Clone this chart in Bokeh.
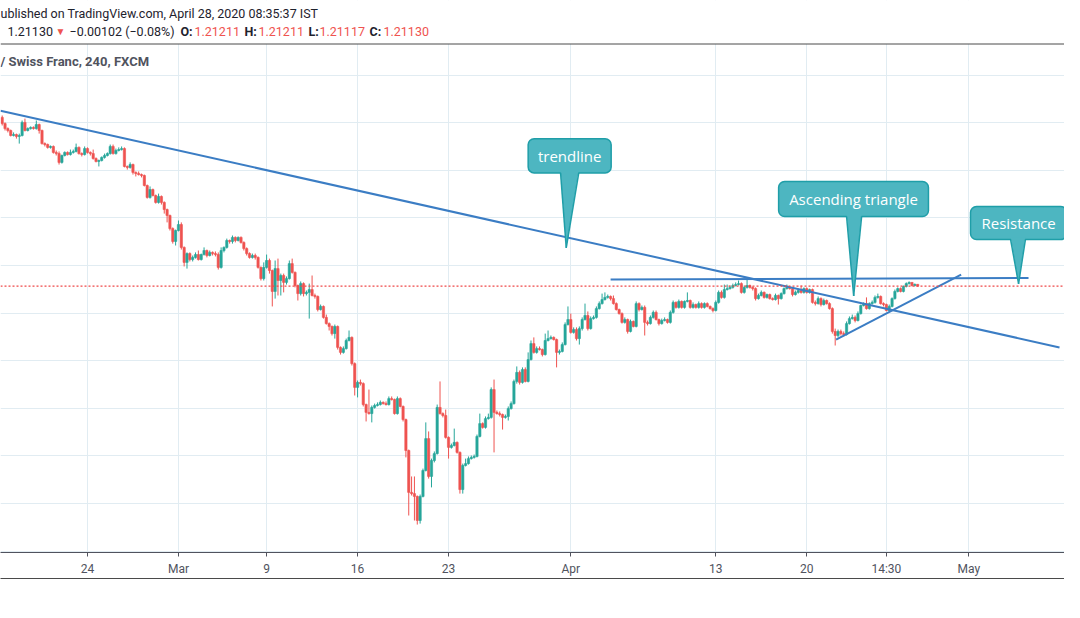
from bokeh.plotting import figure
from bokeh.models import (ColumnDataSource, FixedTicker, Label, Span, BoxAnnotation,
                          LinearAxis, Range1d)
from bokeh.embed import file_html
from bokeh.resources import INLINE

# ---------------- data (GBP/CHF, 240 min bars) ----------------
first_open = 1.2822
close = [
    1.2796, 1.2775, 1.2767, 1.2746, 1.2750, 1.2742, 1.2746, 1.2801, 1.2767, 1.2775,
    1.2780, 1.2775, 1.2792, 1.2767, 1.2712, 1.2708, 1.2696, 1.2700, 1.2675, 1.2670,
    1.2633, 1.2662, 1.2675, 1.2666, 1.2675, 1.2679, 1.2696, 1.2670, 1.2666, 1.2691,
    1.2675, 1.2670, 1.2649, 1.2637, 1.2641, 1.2654, 1.2662, 1.2670, 1.2700, 1.2670,
    1.2683, 1.2687, 1.2691, 1.2616, 1.2612, 1.2624, 1.2591, 1.2586, 1.2582, 1.2578,
    1.2536, 1.2486, 1.2519, 1.2494, 1.2465, 1.2490, 1.2465, 1.2435, 1.2410, 1.2355,
    1.2301, 1.2347, 1.2372, 1.2276, 1.2213, 1.2250, 1.2225, 1.2234, 1.2246, 1.2225,
    1.2246, 1.2263, 1.2242, 1.2255, 1.2250, 1.2246, 1.2192, 1.2263, 1.2276, 1.2305,
    1.2301, 1.2318, 1.2305, 1.2318, 1.2297, 1.2271, 1.2250, 1.2234, 1.2242, 1.2234,
    1.2192, 1.2145, 1.2192, 1.2221, 1.2179, 1.2091, 1.2187, 1.2137, 1.2158, 1.2129,
    1.2145, 1.2208, 1.2171, 1.2116, 1.2082, 1.2124, 1.2082, 1.2087, 1.2099, 1.2074,
    1.2070, 1.2015, 1.2028, 1.1982, 1.1956, 1.1944, 1.1914, 1.1944, 1.1856, 1.1835,
    1.1851, 1.1885, 1.1898, 1.1788, 1.1688, 1.1709, 1.1704, 1.1616, 1.1583, 1.1578,
    1.1604, 1.1612, 1.1616, 1.1625, 1.1620, 1.1616, 1.1641, 1.1637, 1.1578, 1.1641,
    1.1608, 1.1553, 1.1423, 1.1247, 1.1242, 1.1230, 1.1129, 1.1230, 1.1339, 1.1473,
    1.1314, 1.1381, 1.1410, 1.1604, 1.1578, 1.1570, 1.1478, 1.1436, 1.1444, 1.1457,
    1.1415, 1.1259, 1.1360, 1.1368, 1.1389, 1.1394, 1.1398, 1.1482, 1.1536, 1.1520,
    1.1557, 1.1562, 1.1679, 1.1583, 1.1578, 1.1574, 1.1562, 1.1566, 1.1599, 1.1620,
    1.1713, 1.1751, 1.1709, 1.1763, 1.1713, 1.1805, 1.1872, 1.1835, 1.1851, 1.1847,
    1.1826, 1.1885, 1.1893, 1.1898, 1.1889, 1.1835, 1.1839, 1.1868, 1.1952, 1.1973,
    1.1919, 1.1931, 1.1893, 1.1935, 1.1973, 1.1990, 1.1935, 1.1977, 1.1982, 1.2019,
    1.2040, 1.2057, 1.2066, 1.2070, 1.2061, 1.2040, 1.2015, 1.1998, 1.1961, 1.1973,
    1.1923, 1.1965, 1.1944, 1.2040, 1.2015, 1.2024, 1.1961, 1.1956, 1.1982, 1.2003,
    1.1973, 1.1956, 1.1969, 1.1973, 1.1961, 1.2003, 1.2045, 1.2024, 1.2049, 1.2024,
    1.2049, 1.2053, 1.2024, 1.2036, 1.2024, 1.2040, 1.2024, 1.2040, 1.2028, 1.2019,
    1.2011, 1.2045, 1.2087, 1.2066, 1.2099, 1.2103, 1.2108, 1.2116, 1.2120, 1.2124,
    1.2087, 1.2108, 1.2116, 1.2108, 1.2103, 1.2061, 1.2074, 1.2087, 1.2066, 1.2078,
    1.2061, 1.2057, 1.2074, 1.2061, 1.2082, 1.2103, 1.2108, 1.2103, 1.2078, 1.2087,
    1.2095, 1.2087, 1.2103, 1.2087, 1.2099, 1.2045, 1.2040, 1.2061, 1.2036, 1.2053,
    1.2040, 1.2019, 1.1923, 1.1906, 1.1923, 1.1914, 1.1910, 1.1956, 1.1977, 1.1982,
    1.1969, 1.1998, 1.2032, 1.2040, 1.2019, 1.2040, 1.2045, 1.2066, 1.2070, 1.2040,
    1.2036, 1.2011, 1.2028, 1.2061, 1.2091, 1.2103, 1.2091, 1.2112, 1.2124, 1.2129,
    1.2116, 1.2121, 1.2113,
]
high = [
    1.2830, 1.2801, 1.2780, 1.2771, 1.2759, 1.2754, 1.2754, 1.2809, 1.2817, 1.2780,
    1.2784, 1.2784, 1.2809, 1.2796, 1.2771, 1.2717, 1.2712, 1.2704, 1.2704, 1.2683,
    1.2679, 1.2666, 1.2679, 1.2679, 1.2687, 1.2687, 1.2712, 1.2700, 1.2675, 1.2700,
    1.2696, 1.2679, 1.2687, 1.2654, 1.2645, 1.2658, 1.2670, 1.2675, 1.2708, 1.2708,
    1.2691, 1.2696, 1.2700, 1.2696, 1.2620, 1.2633, 1.2628, 1.2595, 1.2595, 1.2586,
    1.2582, 1.2540, 1.2532, 1.2523, 1.2498, 1.2502, 1.2494, 1.2469, 1.2439, 1.2414,
    1.2360, 1.2351, 1.2389, 1.2381, 1.2280, 1.2255, 1.2255, 1.2242, 1.2255, 1.2263,
    1.2250, 1.2276, 1.2267, 1.2263, 1.2259, 1.2259, 1.2255, 1.2276, 1.2280, 1.2313,
    1.2309, 1.2326, 1.2322, 1.2322, 1.2322, 1.2301, 1.2276, 1.2255, 1.2250, 1.2250,
    1.2238, 1.2196, 1.2213, 1.2246, 1.2229, 1.2183, 1.2221, 1.2229, 1.2166, 1.2166,
    1.2154, 1.2221, 1.2229, 1.2175, 1.2120, 1.2133, 1.2129, 1.2095, 1.2124, 1.2158,
    1.2082, 1.2074, 1.2036, 1.2032, 1.1994, 1.1961, 1.1948, 1.1952, 1.1948, 1.1860,
    1.1860, 1.1893, 1.1927, 1.1902, 1.1793, 1.1717, 1.1721, 1.1709, 1.1620, 1.1679,
    1.1612, 1.1620, 1.1625, 1.1633, 1.1629, 1.1629, 1.1650, 1.1650, 1.1641, 1.1650,
    1.1646, 1.1612, 1.1557, 1.1427, 1.1314, 1.1314, 1.1234, 1.1238, 1.1347, 1.1541,
    1.1503, 1.1389, 1.1419, 1.1616, 1.1713, 1.1583, 1.1595, 1.1482, 1.1452, 1.1515,
    1.1461, 1.1419, 1.1368, 1.1389, 1.1398, 1.1402, 1.1406, 1.1490, 1.1578, 1.1541,
    1.1566, 1.1578, 1.1688, 1.1721, 1.1591, 1.1587, 1.1578, 1.1574, 1.1608, 1.1629,
    1.1721, 1.1776, 1.1759, 1.1772, 1.1772, 1.1835, 1.1885, 1.1898, 1.1860, 1.1860,
    1.1851, 1.1914, 1.1927, 1.1906, 1.1902, 1.1893, 1.1847, 1.1877, 1.1961, 1.2028,
    1.1998, 1.1940, 1.1940, 1.1944, 1.1982, 1.2040, 1.2007, 1.1986, 1.1990, 1.2028,
    1.2049, 1.2082, 1.2087, 1.2078, 1.2074, 1.2074, 1.2045, 1.2019, 1.2003, 1.1982,
    1.1977, 1.1973, 1.1969, 1.2049, 1.2045, 1.2032, 1.2032, 1.1969, 1.1990, 1.2011,
    1.2011, 1.1977, 1.1977, 1.1982, 1.1977, 1.2011, 1.2053, 1.2049, 1.2057, 1.2053,
    1.2053, 1.2087, 1.2057, 1.2045, 1.2040, 1.2049, 1.2045, 1.2045, 1.2045, 1.2032,
    1.2024, 1.2053, 1.2095, 1.2095, 1.2120, 1.2120, 1.2116, 1.2124, 1.2129, 1.2137,
    1.2129, 1.2116, 1.2141, 1.2120, 1.2112, 1.2108, 1.2082, 1.2095, 1.2091, 1.2082,
    1.2082, 1.2066, 1.2082, 1.2078, 1.2087, 1.2108, 1.2120, 1.2112, 1.2108, 1.2095,
    1.2103, 1.2116, 1.2108, 1.2108, 1.2103, 1.2103, 1.2053, 1.2070, 1.2066, 1.2061,
    1.2057, 1.2045, 1.2024, 1.1935, 1.1931, 1.1931, 1.1923, 1.1965, 1.1986, 1.1994,
    1.1990, 1.2007, 1.2036, 1.2045, 1.2066, 1.2045, 1.2053, 1.2074, 1.2082, 1.2074,
    1.2045, 1.2040, 1.2036, 1.2066, 1.2099, 1.2108, 1.2108, 1.2116, 1.2129, 1.2133,
    1.2129, 1.2124, 1.2121,
]
low = [
    1.2788, 1.2767, 1.2759, 1.2742, 1.2742, 1.2733, 1.2712, 1.2742, 1.2763, 1.2763,
    1.2771, 1.2771, 1.2771, 1.2754, 1.2708, 1.2700, 1.2691, 1.2691, 1.2670, 1.2662,
    1.2624, 1.2628, 1.2658, 1.2662, 1.2662, 1.2670, 1.2675, 1.2666, 1.2658, 1.2662,
    1.2670, 1.2662, 1.2645, 1.2633, 1.2616, 1.2637, 1.2649, 1.2658, 1.2666, 1.2666,
    1.2666, 1.2679, 1.2683, 1.2612, 1.2603, 1.2607, 1.2582, 1.2574, 1.2578, 1.2570,
    1.2532, 1.2481, 1.2481, 1.2490, 1.2460, 1.2460, 1.2456, 1.2418, 1.2381, 1.2347,
    1.2292, 1.2284, 1.2343, 1.2267, 1.2196, 1.2187, 1.2217, 1.2217, 1.2229, 1.2221,
    1.2221, 1.2242, 1.2234, 1.2238, 1.2242, 1.2238, 1.2183, 1.2187, 1.2255, 1.2271,
    1.2292, 1.2292, 1.2297, 1.2301, 1.2292, 1.2263, 1.2242, 1.2229, 1.2229, 1.2225,
    1.2187, 1.2137, 1.2137, 1.2187, 1.2166, 1.2028, 1.2061, 1.2074, 1.2074, 1.2087,
    1.2120, 1.2141, 1.2166, 1.2108, 1.2053, 1.2074, 1.2070, 1.2074, 1.1977, 1.2070,
    1.2061, 1.2007, 1.2011, 1.1977, 1.1952, 1.1927, 1.1906, 1.1893, 1.1847, 1.1826,
    1.1830, 1.1847, 1.1881, 1.1780, 1.1654, 1.1646, 1.1696, 1.1608, 1.1545, 1.1574,
    1.1541, 1.1599, 1.1608, 1.1612, 1.1616, 1.1612, 1.1612, 1.1633, 1.1574, 1.1574,
    1.1604, 1.1545, 1.1394, 1.1150, 1.1234, 1.1129, 1.1112, 1.1116, 1.1226, 1.1335,
    1.1305, 1.1268, 1.1373, 1.1406, 1.1574, 1.1562, 1.1473, 1.1389, 1.1431, 1.1440,
    1.1410, 1.1242, 1.1242, 1.1356, 1.1364, 1.1385, 1.1389, 1.1394, 1.1478, 1.1515,
    1.1515, 1.1553, 1.1557, 1.1415, 1.1574, 1.1566, 1.1511, 1.1557, 1.1549, 1.1595,
    1.1616, 1.1704, 1.1700, 1.1704, 1.1709, 1.1709, 1.1801, 1.1830, 1.1830, 1.1843,
    1.1818, 1.1822, 1.1881, 1.1889, 1.1885, 1.1772, 1.1826, 1.1835, 1.1864, 1.1948,
    1.1914, 1.1914, 1.1885, 1.1868, 1.1927, 1.1969, 1.1927, 1.1931, 1.1973, 1.1977,
    1.2015, 1.2036, 1.2053, 1.2061, 1.2053, 1.2036, 1.2011, 1.1994, 1.1956, 1.1956,
    1.1914, 1.1919, 1.1940, 1.1940, 1.2007, 1.2011, 1.1906, 1.1948, 1.1952, 1.1977,
    1.1969, 1.1948, 1.1952, 1.1965, 1.1956, 1.1956, 1.1998, 1.2019, 1.2019, 1.2019,
    1.2019, 1.2045, 1.2019, 1.2019, 1.2019, 1.2019, 1.2019, 1.2019, 1.2024, 1.2015,
    1.2003, 1.2007, 1.2040, 1.2061, 1.2061, 1.2095, 1.2099, 1.2103, 1.2112, 1.2116,
    1.2082, 1.2082, 1.2103, 1.2103, 1.2095, 1.2053, 1.2057, 1.2070, 1.2061, 1.2061,
    1.2057, 1.2053, 1.2053, 1.2036, 1.2057, 1.2078, 1.2099, 1.2099, 1.2070, 1.2074,
    1.2082, 1.2082, 1.2082, 1.2082, 1.2082, 1.2040, 1.2032, 1.2036, 1.2028, 1.2032,
    1.2036, 1.2015, 1.1914, 1.1864, 1.1898, 1.1906, 1.1902, 1.1906, 1.1952, 1.1973,
    1.1961, 1.1965, 1.1994, 1.2028, 1.2015, 1.2015, 1.2036, 1.2040, 1.2061, 1.2036,
    1.2028, 1.2007, 1.2007, 1.2024, 1.2057, 1.2087, 1.2087, 1.2087, 1.2108, 1.2120,
    1.2112, 1.2112, 1.21117,
]

# time axis: bar index of each labelled tick, and its label
tick_pos = [30, 62, 93, 125, 157, 200, 251, 283, 311, 340]
tick_lab = ["24", "Mar", "9", "16", "23", "Apr", "13", "20", "14:30", "May"]
price_grid = [1.10, 1.12, 1.14, 1.16, 1.18, 1.20, 1.22, 1.24, 1.26, 1.28, 1.30]
last_price = 1.2113

# drawings (bar index, price)
trend_x = [-0.6, 371.9]
trend_y = [1.2850, 1.1856]
resist_x = [214.0, 361.0]
resist_y = [1.2141, 1.2148]
asc_x = [293.3, 337.3]
asc_y = [1.1889, 1.2162]

callout_text = ["trendline", "Ascending triangle", "Resistance"]
box_left = [185.0, 273.1, 340.6]
box_right = [214.2, 325.8, 374.4]
box_top = [1.2732, 1.2553, 1.2448]
box_bottom = [1.2589, 1.2406, 1.2309]
ptr_left = [196.4, 297.0, 354.7]
ptr_right = [202.8, 302.3, 359.9]
ptr_tip_x = [198.4, 299.5, 357.5]
ptr_tip_y = [1.2274, 1.2072, 1.2123]

header_line1 = "ublished on TradingView.com, April 28, 2020 08:35:37 IST"
symbol_title = "/ Swiss Franc, 240, FXCM"
quote_last = "1.21130"
quote_change = "\u22120.00102 (\u22120.08%)"
ohlc_keys = ["O:", "H:", "L:", "C:"]
ohlc_vals = ["1.21211", "1.21211", "1.21117", "1.21130"]

# ---------------- styling ----------------
UP, DOWN = "#26a69a", "#ef5350"
GRID = "#e1ecf2"
AXIS = "#50535e"
SEP = "#4a4a4a"
DARK = "#1e222d"
LINE = "#3b7dc4"
CALL_FILL, CALL_EDGE = "#4db6c1", "#1f9ea8"
FONT = "Roboto"

# layout helpers: picture pixel -> data coordinates (for annotations only)
BAR0_PX, BAR_PX = 1.7, 2.843
def bx(px):
    return (px - BAR0_PX) / BAR_PX
def py(px):
    return 1.3313 - 0.00042 * px

n = len(close)
opens = [first_open] + close[:-1]
src = ColumnDataSource(dict(
    x=list(range(n)),
    top=[max(o, c) for o, c in zip(opens, close)],
    bottom=[min(o, c) for o, c in zip(opens, close)],
    high=[max(h, o, c) for h, o, c in zip(high, opens, close)],
    low=[min(l, o, c) for l, o, c in zip(low, opens, close)],
    color=[UP if c >= o else DOWN for o, c in zip(opens, close)],
))

p = figure(width=1064, height=602,
           x_range=Range1d(bx(0), bx(1064)), y_range=Range1d(py(552), py(0)),
           output_backend="svg", toolbar_location=None, y_axis_location=None,
           min_border_left=0, min_border_right=0, min_border_top=0, min_border_bottom=50)
p.outline_line_color = None
p.background_fill_color = "white"
p.border_fill_color = "white"

# time axis
xt = FixedTicker(ticks=tick_pos)
ax = p.xaxis[0]
ax.ticker = xt
ax.major_label_overrides = {t: l for t, l in zip(tick_pos, tick_lab)}
ax.axis_line_color = AXIS
ax.axis_line_width = 1
ax.major_tick_line_color = AXIS
ax.major_tick_in = 0
ax.major_tick_out = 4
ax.minor_tick_line_color = None
ax.major_label_text_font = FONT
ax.major_label_text_font_size = "12px"
ax.major_label_text_color = AXIS
ax.major_label_text_line_height = 0.8
ax.major_label_standoff = 5
# lower border line of the time scale
ax2 = LinearAxis(ticker=FixedTicker(ticks=[]), axis_line_color=SEP,
                 major_tick_line_color=None, minor_tick_line_color=None,
                 major_label_text_font_size="0px")
p.add_layout(ax2, "below")

p.xgrid.ticker = xt
p.xgrid.grid_line_color = GRID
p.ygrid.ticker = FixedTicker(ticks=price_grid)
p.ygrid.grid_line_color = GRID

# candles
p.segment(x0="x", y0="low", x1="x", y1="high", line_color="color", line_width=1, source=src)
p.vbar(x="x", width=0.8, top="top", bottom="bottom", fill_color="color",
       line_color="color", line_width=0.6, source=src)

# current price line
p.add_layout(Span(location=last_price, dimension="width", line_color="#f04848",
                  line_dash="2 2", line_width=1.2))

# drawings
p.line(trend_x, trend_y, line_color=LINE, line_width=2)
p.line(resist_x, resist_y, line_color=LINE, line_width=2)
p.line(asc_x, asc_y, line_color=LINE, line_width=2)

# callouts
for k in range(len(callout_text)):
    p.add_layout(BoxAnnotation(left=box_left[k], right=box_right[k], top=box_top[k],
                               bottom=box_bottom[k], fill_color=CALL_FILL, fill_alpha=1.0,
                               line_color=CALL_EDGE, line_alpha=1.0, line_width=1.5,
                               border_radius=6))
    inside = box_bottom[k] + 0.001
    p.patch([ptr_left[k], ptr_tip_x[k], ptr_right[k]], [inside, ptr_tip_y[k], inside],
            fill_color=CALL_FILL, line_color=None, level="overlay")
    p.multi_line([[ptr_left[k], ptr_tip_x[k]], [ptr_right[k], ptr_tip_x[k]]],
                 [[box_bottom[k], ptr_tip_y[k]], [box_bottom[k], ptr_tip_y[k]]],
                 line_color=CALL_EDGE, line_width=1.5, level="overlay")
    p.add_layout(Label(x=(box_left[k] + box_right[k]) / 2, y=(box_top[k] + box_bottom[k]) / 2,
                       text=callout_text[k], text_align="center", text_baseline="middle",
                       text_color="white", text_font="Open Sans", text_font_size="15px"))

# header area (above the separator): white panel, separator line, texts
p.add_layout(BoxAnnotation(bottom=py(43.5), fill_color="white", fill_alpha=1.0,
                           line_color=None))
p.add_layout(Span(location=py(43.5), dimension="width", line_color=SEP, line_width=1))

def lab(rx, ry, text, color=DARK, size="12.5px", style="normal"):
    p.add_layout(Label(x=bx(rx), y=py(ry), text=text, text_align="left",
                       text_baseline="middle", text_color=color, text_font=FONT,
                       text_font_size=size, text_font_style=style))

lab(0, 13, header_line1)
lab(7, 30.5, quote_last)
lab(55, 30.5, "\u25bc", color=DOWN, size="10px")
lab(69, 30.5, quote_change)
key_x = [180, 244, 308, 369]
val_x = [194, 258, 319, 383]
for kx, vx, key, val in zip(key_x, val_x, ohlc_keys, ohlc_vals):
    lab(kx, 30.5, key, style="bold")
    lab(vx, 30.5, val, color=DOWN)
lab(0, 61, symbol_title, color="#50535e", size="13px", style="bold")

open("out.html", "w").write(file_html(p, INLINE))
